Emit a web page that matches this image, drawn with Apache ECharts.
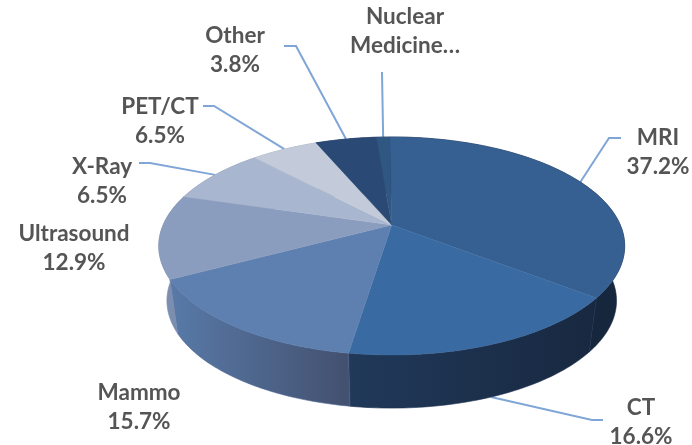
<!DOCTYPE html>
<html>
<head>
<meta charset="utf-8">
<title>Modality share</title>
<script src="https://cdn.jsdelivr.net/npm/echarts@6/dist/echarts.min.js"></script>
<style>
html, body { margin: 0; padding: 0; background: #fff; }
#pie3d { width: 692px; height: 445px; }
</style>
</head>
<body>
<div id="pie3d"></div>
<script>
var categories = ['MRI', 'CT', 'Mammo', 'Ultrasound', 'X-Ray', 'PET/CT', 'Other', 'Nuclear\nMedicine…'];
// wedge sizes as drawn in the picture; they differ a little from the printed
// percentages (X-Ray and PET/CT both print 6.5% but are not the same size)
var sliceShares = [35.6, 16.9, 14.7, 12.4, 8.4, 5.6, 5.1, 1.1];
var printedPercents = ['37.2%', '16.6%', '15.7%', '12.9%', '6.5%', '6.5%', '3.8%', ''];

var topColors = ['#365f92', '#3a6aa2', '#5e80b0', '#8a9dbe', '#a9b6cf', '#c3cbda', '#2a4a75', '#305682'];
var wallColors = [
	['#18283f', '#16263d'], ['#21395a', '#182840'], ['#587aa8', '#43506f'], ['#8193b5', '#7487a9'],
	['#8a97ad', '#8a97ad'], ['#9aa4b5', '#9aa4b5'], ['#21395a', '#21395a'], ['#21395a', '#21395a']
];
var wallEdges = ['#17273e', '#1d3150', '#4d6590', '#7a8dae', '#8a97ad', '#9aa4b5', '#21395a', '#21395a'];

// label centre + elbow of the leader line (null = no leader)
var labelPos = [[658, 152], [641, 422], [139, 407], [74, 248], [102, 181], [160, 121], [235, 50], [405, 31]];
var elbows = [
	[[609, 138], [621, 138]], [[592, 420], [603, 420]], null, null,
	[[150, 163], [139, 163]], [[214, 106], [203, 106]], [[296, 46], [284, 46]], [[382, 72]]
];

// perspective of the disc
var cx = 391.7, cyTop = 225, cyBottom = 280;
var persp = 0.1926, radiusX = 228.6, radiusY = 105, bottomScale = 0.965;
var firstAngle = -0.01;

function project(angle, bottom) {
	var u = Math.sin(angle), v = -Math.cos(angle);
	var d = 1 - persp * v;
	if (bottom) {
		return [cx + radiusX * bottomScale * u / d, cyBottom + radiusY * 0.985 * v / d];
	}
	return [cx + radiusX * u / d, cyTop + radiusY * v / d];
}

var total = 0, startAngles = [];
for (var n = 0; n < sliceShares.length; n++) {
	total += sliceShares[n];
}
var running = 0;
for (var m = 0; m < sliceShares.length; m++) {
	startAngles.push(firstAngle + running / total * Math.PI * 2);
	running += sliceShares[m];
}

function sliceRange(i) {
	var from = startAngles[i];
	return [from, from + sliceShares[i] / total * Math.PI * 2];
}

function rimPoints(from, to, bottom) {
	var pts = [], steps = Math.max(4, Math.ceil((to - from) / 0.02));
	for (var s = 0; s <= steps; s++) {
		pts.push(project(from + (to - from) * s / steps, bottom));
	}
	return pts;
}

function renderWall(params) {
	var i = params.dataIndex, r = sliceRange(i);
	var pts = rimPoints(r[0], r[1], false).concat(rimPoints(r[0], r[1], true).reverse());
	return {
		type: 'polygon',
		shape: { points: pts },
		style: {
			fill: new echarts.graphic.LinearGradient(0, 0, 1, 0, [
				{ offset: 0, color: wallColors[i][0] },
				{ offset: 1, color: wallColors[i][1] }
			]),
			stroke: wallEdges[i],
			lineWidth: 0.6
		}
	};
}

function renderTop(params) {
	var i = params.dataIndex, r = sliceRange(i);
	var pts = [[cx, cyTop]].concat(rimPoints(r[0], r[1], false));
	return {
		type: 'polygon',
		shape: { points: pts },
		style: { fill: topColors[i], stroke: topColors[i], lineWidth: 0.4 }
	};
}

function renderLeader(params) {
	var i = params.dataIndex;
	if (!elbows[i]) {
		return { type: 'group', children: [] };
	}
	var r = sliceRange(i), mid = (r[0] + r[1]) / 2;
	// front slices hang their leader from the lower rim
	var anchor = project(mid, -Math.cos(mid) > 0.5);
	return {
		type: 'polyline',
		shape: { points: [anchor].concat(elbows[i]) },
		style: { fill: null, stroke: '#7fa6d6', lineWidth: 2 }
	};
}

function renderLabel(params) {
	var i = params.dataIndex;
	var txt = categories[i] + (printedPercents[i] ? '\n' + printedPercents[i] : '');
	return {
		type: 'text',
		x: labelPos[i][0],
		y: labelPos[i][1],
		style: {
			text: txt,
			fill: '#555555',
			font: 'bold 22.5px Lato',
			lineHeight: 28.5,
			align: 'center',
			verticalAlign: 'middle'
		}
	};
}

function customSeries(fn, z) {
	return {
		type: 'custom',
		coordinateSystem: 'none',
		silent: true,
		z: z,
		data: sliceShares,
		renderItem: fn
	};
}

var myChart = echarts.init(document.getElementById('pie3d'), null, { renderer: 'canvas' });

var option = {
	animation: false,
	backgroundColor: '#ffffff',
	series: [
		customSeries(renderLeader, 1),
		customSeries(renderWall, 2),
		customSeries(renderTop, 3),
		customSeries(renderLabel, 4)
	]
};

myChart.setOption(option, true);
</script>
</body>
</html>
